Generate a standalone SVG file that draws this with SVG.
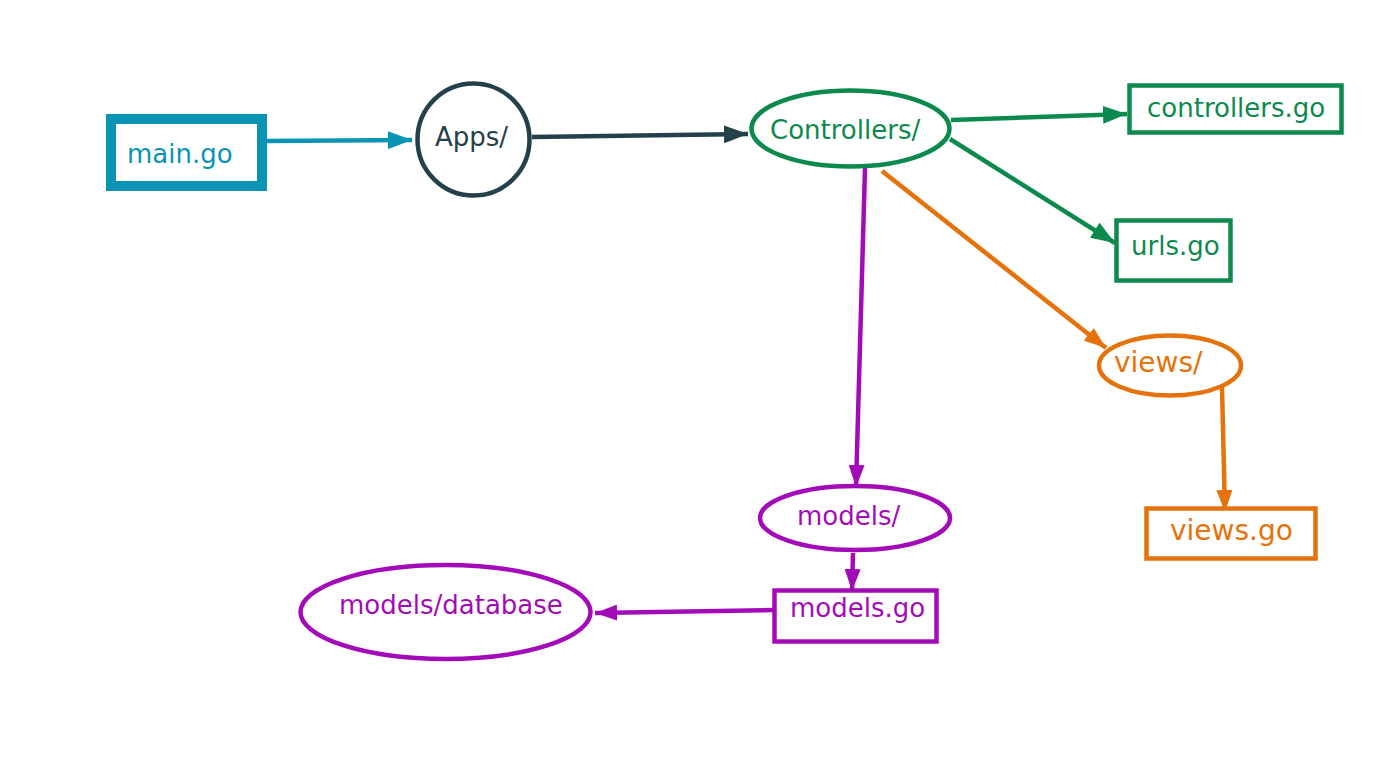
<svg xmlns="http://www.w3.org/2000/svg" width="1380" height="767" viewBox="0 0 1380 767">
<style>
text{font-family:"DejaVu Sans","Liberation Sans",sans-serif;font-size:26px}
.blue{stroke:#0a94b4;fill:none}
.dark{stroke:#24404a;fill:none}
.green{stroke:#0c8a4e;fill:none}
.orange{stroke:#e5720a;fill:none}
.purple{stroke:#a30bb8;fill:none}
.n{stroke-width:4.5;fill:#fff}
.e{stroke-width:4.5;fill:none}
.tb{fill:#0a94b4}.td{fill:#24404a}.tg{fill:#0c8a4e}.to{fill:#e5720a}.tp{fill:#a30bb8}
</style>
<defs>
<marker id="ab" markerUnits="userSpaceOnUse" markerWidth="24" markerHeight="18" refX="24" refY="9" orient="auto"><path d="M0,0L24,9L0,18z" fill="#0a94b4"/></marker>
<marker id="ad" markerUnits="userSpaceOnUse" markerWidth="24" markerHeight="18" refX="24" refY="9" orient="auto"><path d="M0,0L24,9L0,18z" fill="#24404a"/></marker>
<marker id="ag" markerUnits="userSpaceOnUse" markerWidth="24" markerHeight="18" refX="24" refY="9" orient="auto"><path d="M0,0L24,9L0,18z" fill="#0c8a4e"/></marker>
<marker id="ao" markerUnits="userSpaceOnUse" markerWidth="22" markerHeight="16" refX="22" refY="8" orient="auto"><path d="M0,0L22,8L0,16z" fill="#e5720a"/></marker>
<marker id="ap" markerUnits="userSpaceOnUse" markerWidth="22" markerHeight="16" refX="22" refY="8" orient="auto"><path d="M0,0L22,8L0,16z" fill="#a30bb8"/></marker>
</defs>
<rect width="1380" height="767" fill="#fff"/>
<g id="connectors">
<path class="blue e" d="M266,141L412,140" marker-end="url(#ab)"/>
<path class="dark e" d="M532,137L748,134" marker-end="url(#ad)"/>
<path class="green e" d="M951,120L1127,114" marker-end="url(#ag)"/>
<path class="green e" d="M950,139L1115,243" marker-end="url(#ag)"/>
<path class="orange e" d="M882,171L1106,348" marker-end="url(#ao)"/>
<path class="orange e" d="M1222,387L1225,512" marker-end="url(#ao)"/>
<path class="purple e" d="M865,168L856,487" marker-end="url(#ap)"/>
<path class="purple e" d="M853,553L852,591" marker-end="url(#ap)"/>
<path class="purple e" d="M773,610L595,613" marker-end="url(#ap)"/>
</g>
<g id="main"><rect class="blue" x="111" y="119" width="151" height="67" stroke-width="10" fill="#fff"/><text class="tb" x="127" y="163">main.go</text></g>
<g id="apps"><circle class="dark n" cx="473.5" cy="139.5" r="56"/><text class="td" x="435" y="146">Apps/</text></g>
<g id="controllers"><ellipse class="green n" cx="850.5" cy="128.5" rx="99" ry="38"/><text class="tg" x="770" y="139">Controllers/</text></g>
<g id="controllersgo"><rect class="green n" x="1129.5" y="85.5" width="212" height="47"/><text class="tg" x="1147" y="117">controllers.go</text></g>
<g id="urls"><rect class="green n" x="1116.5" y="220.5" width="114" height="60"/><text class="tg" x="1131" y="255">urls.go</text></g>
<g id="views"><ellipse class="orange n" cx="1170" cy="365.5" rx="71" ry="30"/><text class="to" x="1114" y="372" style="font-size:28px">views/</text></g>
<g id="viewsgo"><rect class="orange n" x="1146.5" y="508.5" width="169" height="50"/><text class="to" x="1170" y="540" style="font-size:28px">views.go</text></g>
<g id="models"><ellipse class="purple n" cx="855" cy="518" rx="95" ry="32"/><text class="tp" x="797" y="525">models/</text></g>
<g id="modelsgo"><rect class="purple n" x="774.5" y="590.5" width="162" height="51"/><text class="tp" x="790" y="617">models.go</text></g>
<g id="database"><ellipse class="purple n" cx="445.5" cy="612" rx="145" ry="47"/><text class="tp" x="339" y="614">models/database</text></g>
</svg>
